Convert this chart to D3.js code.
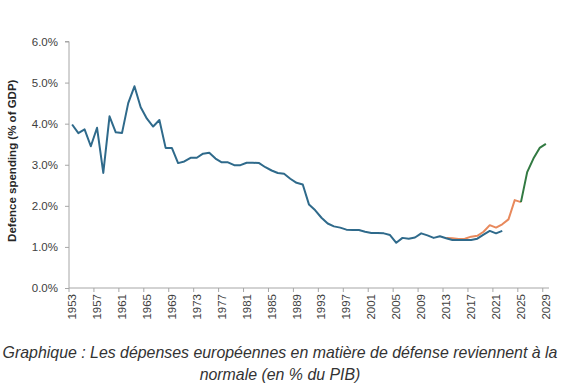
<!DOCTYPE html>
<html lang="fr">
<head>
  <meta charset="UTF-8">
  <title>Dépenses européennes de défense</title>
  <script src="https://d3js.org/d3.v7.min.js"></script>
  <style>
    html, body { margin: 0; padding: 0; background: #fff; overflow: hidden; }
    svg { display: block; }
    .axis path, .axis line { stroke: #a6a6a6; }
    .axis text { font-family: "Liberation Sans", Arial, sans-serif; font-size: 11.5px; fill: #404040; }
    .caption { font-family: "Liberation Sans", Arial, sans-serif; font-style: italic; font-size: 15.9px; fill: #333; }
  </style>
</head>
<body>
  <svg id="chart" width="564" height="389"></svg>
  <script>
  // years shown on the category axis
  const years = d3.range(1953, 2030);
  const tickYears = years.filter((y, i) => i % 4 === 0);
  const yTicks = [0, 1, 2, 3, 4, 5, 6];

  // historical series (blue), 1953-2022
  const histYears = d3.range(1953, 2023);
  const histValues = [
    3.98, 3.77, 3.86, 3.45, 3.90, 2.80, 4.18, 3.79, 3.77, 4.50,
    4.91, 4.40, 4.12, 3.93, 4.09, 3.41, 3.41, 3.04, 3.08, 3.17,
    3.17, 3.27, 3.29, 3.15, 3.06, 3.06, 2.99, 2.99, 3.05, 3.05,
    3.04, 2.94, 2.86, 2.80, 2.78, 2.66, 2.56, 2.52, 2.03, 1.89,
    1.71, 1.57, 1.50, 1.47, 1.42, 1.41, 1.41, 1.37, 1.34, 1.34,
    1.33, 1.29, 1.10, 1.22, 1.20, 1.23, 1.33, 1.28, 1.22, 1.26,
    1.21, 1.17, 1.17, 1.17, 1.17, 1.20, 1.30, 1.39, 1.33, 1.39
  ];

  // recent series (orange), 2013-2025
  const recentYears = d3.range(2013, 2026);
  const recentValues = [1.22, 1.21, 1.19, 1.20, 1.25, 1.27, 1.37, 1.53, 1.47, 1.55, 1.67, 2.14, 2.09];

  // projection (green), 2025-2029
  const projYears = d3.range(2025, 2030);
  const projValues = [2.09, 2.82, 3.15, 3.41, 3.51];

  const svg = d3.select("#chart");

  const x = d3.scaleBand().domain(years).range([69, 549]);
  const y = d3.scaleLinear().domain([0, 6]).range([288, 41.5]);

  // x axis: ticks sit on category boundaries every 4 years
  const xAxis = svg.append("g").attr("class", "axis").attr("transform", "translate(0,288)");
  xAxis.append("line").attr("x1", 69).attr("x2", 549).attr("y1", 0).attr("y2", 0);
  xAxis.selectAll("line.tick").data(tickYears).enter().append("line")
    .attr("class", "tick")
    .attr("x1", d => x(d)).attr("x2", d => x(d))
    .attr("y1", 0).attr("y2", 4);
  xAxis.selectAll("text").data(tickYears).enter().append("text")
    .attr("transform", d => `translate(${x(d) + x.bandwidth() / 2 + 4},6) rotate(-90)`)
    .attr("text-anchor", "end")
    .text(d => d);

  // y axis
  const yAxis = svg.append("g").attr("class", "axis").attr("transform", "translate(69,0)")
    .call(d3.axisLeft(y).tickValues(yTicks).tickSize(4).tickPadding(7)
      .tickFormat(d => d.toFixed(1) + "%"));
  yAxis.select(".domain").attr("d", `M-4,${y(6)}H0V${y(0)}`);

  svg.append("text")
    .attr("transform", `translate(16,${(y(0) + y(6)) / 2 - 4}) rotate(-90)`)
    .attr("text-anchor", "middle")
    .style("font-family", "'Liberation Sans', Arial, sans-serif")
    .style("font-size", "11.5px")
    .style("font-weight", "bold")
    .style("fill", "#262626")
    .text("Defence spending (% of GDP)");

  const line = d3.line()
    .x(d => x(d[0]) + x.bandwidth() / 2)
    .y(d => y(d[1]));

  const series = [
    { yrs: recentYears, vals: recentValues, color: "#e8895c" },
    { yrs: histYears, vals: histValues, color: "#2f6a8b" },
    { yrs: projYears, vals: projValues, color: "#327a42" }
  ];

  series.forEach(s => {
    svg.append("path")
      .datum(d3.zip(s.yrs, s.vals))
      .attr("fill", "none")
      .attr("stroke", s.color)
      .attr("stroke-width", 2)
      .attr("stroke-linejoin", "round")
      .attr("d", line);
  });

  // caption
  const caption = [
    "Graphique : Les dépenses européennes en matière de défense reviennent à la",
    "normale (en % du PIB)"
  ];
  svg.selectAll("text.caption").data(caption).enter().append("text")
    .attr("class", "caption")
    .attr("x", 280)
    .attr("y", (d, i) => 358 + i * 22)
    .attr("text-anchor", "middle")
    .text(d => d);
  </script>
</body>
</html>
